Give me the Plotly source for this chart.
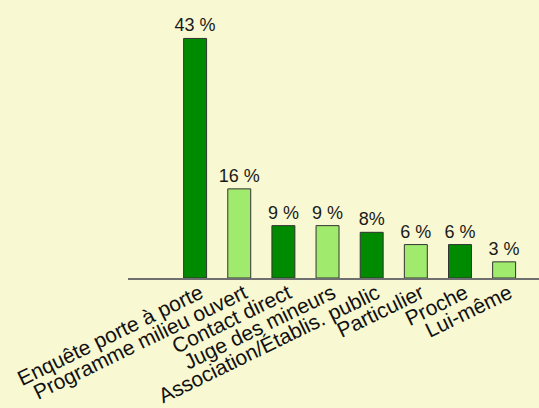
import plotly.graph_objects as go

categories = ["Enquête porte à porte", "Programme milieu ouvert", "Contact direct",
              "Juge des mineurs", "Association/Établis. public", "Particulier",
              "Proche", "Lui-même"]
values = [43, 16, 9.4, 9.4, 8.2, 6, 6, 2.9]
value_labels = ["43 %", "16 %", "9 %", "9 %", "8%", "6 %", "6 %", "3 %"]

dark = "#008a00"
light = "#a0ea6e"
colors = [dark if i % 2 == 0 else light for i in range(len(categories))]

fig = go.Figure(go.Bar(
    x=list(range(len(categories))),
    y=values,
    text=value_labels,
    textposition="outside",
    constraintext="none",
    textfont=dict(family="Liberation Sans, Arial", size=18, color="#1a1a1a"),
    marker=dict(color=colors, line=dict(color="#333333", width=1)),
    width=0.52,
    cliponaxis=False,
))

fig.update_layout(
    width=539, height=408,
    margin=dict(l=128, r=0, t=0, b=130),
    paper_bgcolor="#f8f8d2",
    plot_bgcolor="#f8f8d2",
    showlegend=False,
)
fig.update_xaxes(
    range=[-1.52, 7.79],
    tickmode="array",
    tickvals=list(range(len(categories))),
    ticktext=categories,
    tickangle=-26,
    ticklabelstandoff=-7,
    ticklabelshift=5,
    tickfont=dict(family="Liberation Sans, Arial", size=21, color="#111111"),
    showline=True, linecolor="#707070", linewidth=2,
    showgrid=False, zeroline=False, ticks="",
)
fig.update_yaxes(range=[0, 49.9], visible=False, showgrid=False, zeroline=False)

fig.write_html("out.html", config={"displayModeBar": False},
               post_script="document.body.style.margin='0';document.body.style.background='#f8f8d2';")
